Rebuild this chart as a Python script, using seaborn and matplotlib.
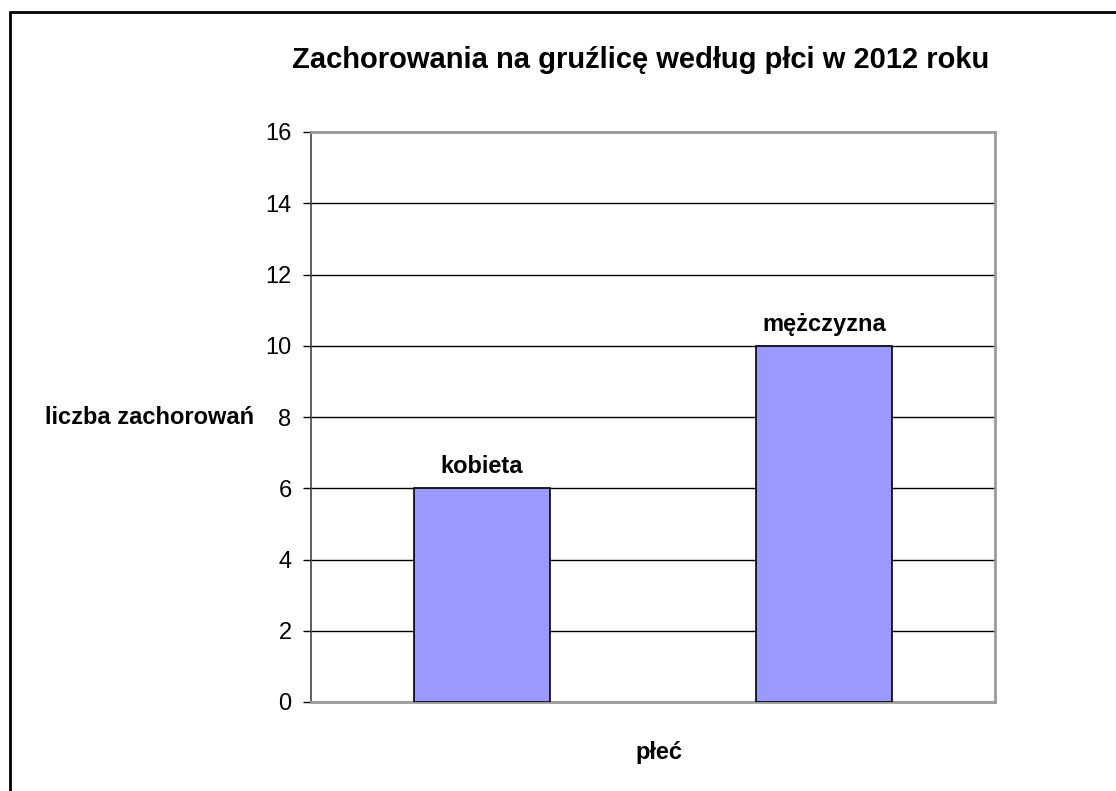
import matplotlib
matplotlib.use("Agg")
import matplotlib.pyplot as plt
import seaborn as sns
import pandas as pd
from matplotlib.lines import Line2D

categories = ["kobieta", "mężczyzna"]
values = [6, 10]
yticks = [0, 2, 4, 6, 8, 10, 12, 14, 16]

sns.set_style("white")
plt.rcParams['font.family'] = ['Liberation Sans', 'DejaVu Sans']

W, H = 1116, 791
fig = plt.figure(figsize=(W / 100, H / 100), dpi=100)
ax = fig.add_axes([311 / W, 1 - 702 / H, (995 - 311) / W, (702 - 132) / H])

df = pd.DataFrame({"plec": categories, "liczba": values})
sns.barplot(data=df, x="plec", y="liczba", ax=ax, color="#9999ff", saturation=1,
            width=0.4, edgecolor="black", linewidth=1.2, zorder=3)

ax.set_ylim(0, 16)
ax.set_xlim(-0.5, 1.5)
ax.set_yticks(yticks)
ax.set_yticklabels([str(t) for t in yticks], fontsize=17, color="black")
ax.set_xticks([])
ax.yaxis.grid(True, color="black", linewidth=1)
ax.set_axisbelow(True)
ax.tick_params(axis="y", length=6, width=1, color="black", left=True, pad=8)

for s in ["top", "right", "bottom"]:
    ax.spines[s].set_color("#999999")
    ax.spines[s].set_linewidth(2)
ax.spines["left"].set_color("#444444")
ax.spines["left"].set_linewidth(1.2)

for i, (c, v) in enumerate(zip(categories, values)):
    ax.text(i, v + 0.6, c, ha="center", va="center", fontsize=17, fontweight="bold",
            color="black")

ax.set_xlabel("")
ax.set_ylabel("")
fig.text(641 / W, 1 - 60 / H, "Zachorowania na gruźlicę według płci w 2012 roku",
         ha="center", va="center", fontsize=21, fontweight="bold", color="black")
fig.text(150 / W, 1 - 418 / H, "liczba zachorowań", ha="center", va="center",
         fontsize=17, fontweight="bold", color="black")
fig.text(659 / W, 1 - 752 / H, "płeć", ha="center", va="center",
         fontsize=17, fontweight="bold", color="black")

# outer frame
fig.add_artist(Line2D([9.5 / W, 9.5 / W], [0, 1 - 12 / H], color="black", linewidth=2,
                      transform=fig.transFigure))
fig.add_artist(Line2D([9.5 / W, 1], [1 - 12 / H, 1 - 12 / H], color="black", linewidth=2,
                      transform=fig.transFigure))

fig.savefig("out.png", dpi=100)
